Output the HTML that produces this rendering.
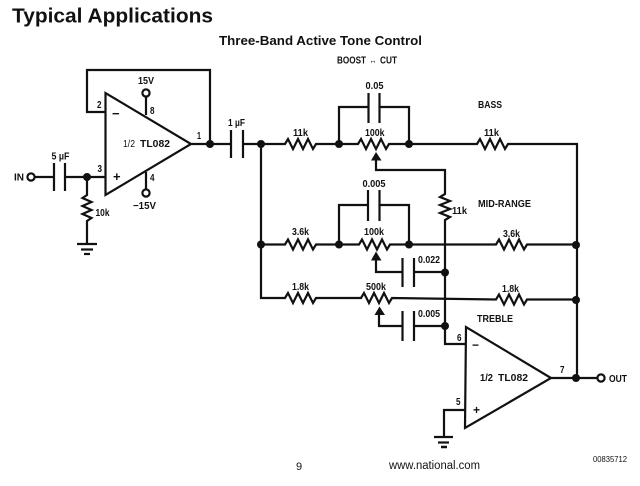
<!DOCTYPE html>
<html><head><meta charset="utf-8"><style>
html,body{margin:0;padding:0;background:#fff}
svg{display:block;filter:blur(0.3px)}
text{font-family:"Liberation Sans",sans-serif;fill:#111}
.l{font-size:10px;font-weight:bold}
.w{fill:none;stroke:#111;stroke-width:2.2}
.d{fill:#111}
.o{fill:#fff;stroke:#111;stroke-width:2.2}
</style></head><body>
<svg width="640" height="486" viewBox="0 0 640 486" xmlns="http://www.w3.org/2000/svg">
<text x="12" y="22.500" font-size="20" font-weight="bold" fill="#222" textLength="201" lengthAdjust="spacingAndGlyphs">Typical Applications</text>
<text x="219" y="45" font-size="13" font-weight="bold" fill="#222" textLength="203" lengthAdjust="spacingAndGlyphs">Three-Band Active Tone Control</text>
<text x="296" y="470" font-size="11">9</text>
<text x="389" y="469" font-size="11.500" textLength="91" lengthAdjust="spacingAndGlyphs">www.national.com</text>
<text x="593" y="462" font-size="8" textLength="34" lengthAdjust="spacingAndGlyphs">00835712</text>

<g class="w">
<!-- op amp 1 -->
<path d="M105.500 93V195L191 144Z"/>
<path d="M105 112H87V70H210V144"/>
<path d="M191 144H231M243 144H261"/>
<path d="M231 130V158M243 130V158"/>
<path d="M35 177H54M65 177H105"/>
<path d="M54 163V191M65 163V191"/>
<path d="M87 177V195l-4.500 3 9 4-9 4 9 4-9 4 9 4-4.500 3V244"/>
<path d="M77 244H97"/>
<path d="M81 249.500H93"/>
<path d="M84 254H90"/>
<path d="M146 97V115M146 172V189"/>

<!-- bass -->
<path d="M261 144H285l3-5 5 10 5-10 5 10 5-10 5 10 3-5H358l3-5 5 10 5-10 5 10 5-10 5 10 3-5H477l3-5 5 10 5-10 5 10 5-10 5 10 3-5H577V378"/>
<path d="M339 144V107H368M380 107H409V144"/>
<path d="M368.500 93V123M379.500 93V123"/>
<path d="M376 158V170H445V194l-5 3 10 4-10 4 10 4-10 4 10 4-5 3V344H465"/>

<!-- mid -->
<path d="M261 144V298H285l3-5 5 10 5-10 5 10 5-10 5 10 3-5H361l3-5 5 10 5-10 5 10 5-10 5 10 3-5L496 299.500l3-5 5 10 5-10 5 10 5-10 5 10 3-5H577"/>
<path d="M261 244.500H285l3-5 5 10 5-10 5 10 5-10 5 10 3-5H359l3-5 5 10 5-10 5 10 5-10 5 10 3-5H496l3-5 5 10 5-10 5 10 5-10 5 10 3-5H577"/>
<path d="M339 244V205H368M380 205H409V244"/>
<path d="M368 190V221M379.500 190V221"/>
<path d="M376 258V272H403M414 272H445"/>
<path d="M402.500 258V287M414 258V287"/>

<!-- treble -->
<path d="M379 314V326H403M414 326H445"/>
<path d="M402.500 311V341M414 311V341"/>

<!-- op amp 2 -->
<path d="M466 327L465 428L551 378Z"/>
<path d="M551 378H597"/>
<path d="M465 410H444V436"/>
<path d="M434 437H453"/>
<path d="M438 442.500H449"/>
<path d="M441 447H447" stroke-width="2.500"/>
</g>

<!-- arrowheads -->
<path class="d" d="M376 152L371 160.500H381.500Z"/>
<path class="d" d="M376 251.500L371 260.500H381.500Z"/>
<path class="d" d="M379.500 306.500L374.500 315H385Z"/>

<!-- junction dots -->
<g class="d">
<circle cx="210" cy="144" r="4"/>
<circle cx="87" cy="177" r="4"/>
<circle cx="261" cy="144" r="4"/>
<circle cx="339" cy="144" r="4"/>
<circle cx="409" cy="144" r="4"/>
<circle cx="261" cy="244.500" r="4"/>
<circle cx="339" cy="244.500" r="4"/>
<circle cx="409" cy="244.500" r="4"/>
<circle cx="445" cy="272.500" r="4"/>
<circle cx="445" cy="326" r="4"/>
<circle cx="576" cy="245" r="4"/>
<circle cx="576" cy="300" r="4"/>
<circle cx="576" cy="378" r="4"/>
</g>

<!-- terminals -->
<circle class="o" cx="31" cy="177" r="3.600"/>
<circle class="o" cx="146" cy="93" r="3.600"/>
<circle class="o" cx="146" cy="193" r="3.600"/>
<circle class="o" cx="601" cy="378" r="3.600"/>

<!-- labels -->
<text class="l" x="14" y="180.500" textLength="10" lengthAdjust="spacingAndGlyphs">IN</text>
<text class="l" x="51.500" y="159.500" textLength="18" lengthAdjust="spacingAndGlyphs">5 µF</text>
<text class="l" x="95.500" y="216" textLength="14" lengthAdjust="spacingAndGlyphs">10k</text>
<text class="l" x="97" y="108" textLength="4.500" lengthAdjust="spacingAndGlyphs">2</text>
<text class="l" x="97.500" y="172" textLength="4.500" lengthAdjust="spacingAndGlyphs">3</text>
<text class="l" x="197" y="139" textLength="4" lengthAdjust="spacingAndGlyphs">1</text>
<text class="l" x="150" y="114" textLength="4.500" lengthAdjust="spacingAndGlyphs">8</text>
<text class="l" x="150" y="181" textLength="4.500" lengthAdjust="spacingAndGlyphs">4</text>
<text class="l" x="138" y="84" textLength="16" lengthAdjust="spacingAndGlyphs">15V</text>
<text class="l" x="133" y="209" textLength="23" lengthAdjust="spacingAndGlyphs">−15V</text>
<text x="112" y="118" font-size="13" font-weight="bold">−</text>
<text x="113" y="181" font-size="13" font-weight="bold">+</text>
<text class="l" x="123" y="147" textLength="12" lengthAdjust="spacingAndGlyphs" style="font-weight:normal">1/2</text>
<text class="l" x="140" y="147" textLength="30" lengthAdjust="spacingAndGlyphs">TL082</text>
<text class="l" x="228" y="126" textLength="17" lengthAdjust="spacingAndGlyphs">1 µF</text>
<text class="l" x="337" y="63.500" textLength="29" lengthAdjust="spacingAndGlyphs">BOOST</text>
<text class="l" x="369.500" y="63.500" textLength="7" lengthAdjust="spacingAndGlyphs">↔</text>
<text class="l" x="380" y="63.500" textLength="17" lengthAdjust="spacingAndGlyphs">CUT</text>
<text class="l" x="365.500" y="89" textLength="18" lengthAdjust="spacingAndGlyphs">0.05</text>
<text class="l" x="293" y="136" textLength="15" lengthAdjust="spacingAndGlyphs">11k</text>
<text class="l" x="365" y="136" textLength="19.500" lengthAdjust="spacingAndGlyphs">100k</text>
<text class="l" x="478" y="108" textLength="24" lengthAdjust="spacingAndGlyphs">BASS</text>
<text class="l" x="484" y="136" textLength="15" lengthAdjust="spacingAndGlyphs">11k</text>
<text class="l" x="362.500" y="187" textLength="23" lengthAdjust="spacingAndGlyphs">0.005</text>
<text class="l" x="452" y="214" textLength="15" lengthAdjust="spacingAndGlyphs">11k</text>
<text class="l" x="478" y="207" textLength="53" lengthAdjust="spacingAndGlyphs">MID-RANGE</text>
<text class="l" x="292" y="235" textLength="17" lengthAdjust="spacingAndGlyphs">3.6k</text>
<text class="l" x="364" y="235" textLength="20" lengthAdjust="spacingAndGlyphs">100k</text>
<text class="l" x="503" y="237" textLength="17" lengthAdjust="spacingAndGlyphs">3.6k</text>
<text class="l" x="418" y="263" textLength="22" lengthAdjust="spacingAndGlyphs">0.022</text>
<text class="l" x="292" y="290" textLength="17" lengthAdjust="spacingAndGlyphs">1.8k</text>
<text class="l" x="366" y="290" textLength="20" lengthAdjust="spacingAndGlyphs">500k</text>
<text class="l" x="502" y="292" textLength="17" lengthAdjust="spacingAndGlyphs">1.8k</text>
<text class="l" x="418" y="317" textLength="22" lengthAdjust="spacingAndGlyphs">0.005</text>
<text class="l" x="477" y="322" textLength="36" lengthAdjust="spacingAndGlyphs">TREBLE</text>
<text class="l" x="457" y="341" textLength="4.500" lengthAdjust="spacingAndGlyphs">6</text>
<text class="l" x="456" y="405" textLength="4.500" lengthAdjust="spacingAndGlyphs">5</text>
<text class="l" x="560" y="373" textLength="4.500" lengthAdjust="spacingAndGlyphs">7</text>
<text x="472" y="349" font-size="12" font-weight="bold">−</text>
<text x="473" y="414" font-size="12" font-weight="bold">+</text>
<text class="l" x="480" y="381" textLength="13" lengthAdjust="spacingAndGlyphs">1/2</text>
<text class="l" x="498" y="381" textLength="30" lengthAdjust="spacingAndGlyphs">TL082</text>
<text class="l" x="609" y="382" textLength="18" lengthAdjust="spacingAndGlyphs">OUT</text>
</svg>
</body></html>
